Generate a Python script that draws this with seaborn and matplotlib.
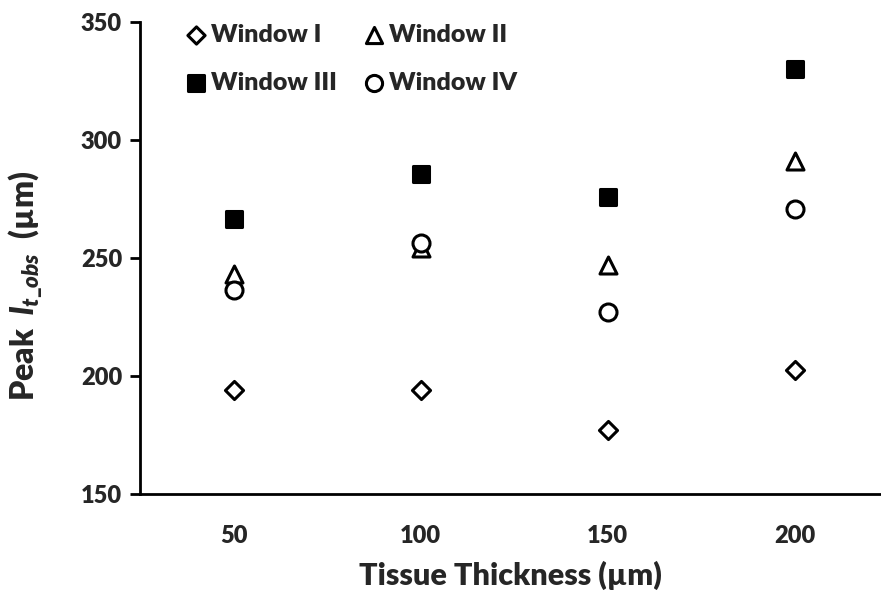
import matplotlib
matplotlib.use("Agg")
import matplotlib.pyplot as plt
import seaborn as sns

# datos
grosor = ["50", "100", "150", "200"]
ventana_1 = [194.2, 194.2, 177.3, 202.7]
ventana_2 = [243.5, 254.5, 247.0, 291.3]
ventana_3 = [266.9, 285.7, 276.0, 330.1]
ventana_4 = [236.7, 256.5, 227.2, 271.1]

sns.set_style("white")
plt.rcParams["font.family"] = ["Lato", "DejaVu Sans"]
plt.rcParams["font.weight"] = "heavy"
plt.rcParams["mathtext.fontset"] = "custom"
plt.rcParams["mathtext.rm"] = "Lato:heavy"
plt.rcParams["mathtext.it"] = "Lato:italic:heavy"

fig = plt.figure(figsize=(8.81, 5.92), dpi=100)
ax = fig.add_axes([0.159, 0.165, 0.841, 0.797])

series = [
    ("Window I", ventana_1, "D", 85, "white"),
    ("Window II", ventana_2, "^", 150, "white"),
    ("Window III", ventana_3, "s", 140, "black"),
    ("Window IV", ventana_4, "o", 150, "white"),
]
for nombre, vals, marcador, tam, relleno in series:
    sns.scatterplot(x=grosor, y=vals, marker=marcador, s=tam, facecolor=relleno,
                    edgecolor="black", linewidth=2.2, label=nombre, ax=ax, zorder=3)

ax.set_ylim(150, 350)
ax.set_yticks([150, 200, 250, 300, 350])
ax.set_xlim(-0.5, 3.46)

for lado in ["top", "right"]:
    ax.spines[lado].set_visible(False)
for lado in ["left", "bottom"]:
    ax.spines[lado].set_color("black")
    ax.spines[lado].set_linewidth(2)

ax.tick_params(axis="y", length=7, width=2, color="black", labelsize=17, pad=6, left=True)
ax.tick_params(axis="x", length=0, labelsize=17, pad=22)

ax.set_xlabel("Tissue Thickness (µm)", fontsize=22, fontweight="heavy", labelpad=10)
ax.set_ylabel(r"Peak  $l_{t\_obs}$  (µm)", fontsize=23, fontweight="heavy")
ax.yaxis.set_label_coords(-0.13, 0.443)

# orden por filas: I, II arriba; III, IV abajo
h, l = ax.get_legend_handles_labels()
orden = [0, 2, 1, 3]
leg = ax.legend([h[i] for i in orden], [l[i] for i in orden],
                loc="upper left", ncol=2, frameon=False, fontsize=18,
                bbox_to_anchor=(0.025, 1.045), handletextpad=0.0, columnspacing=0.9,
                labelspacing=1.05, markerscale=0.95, handlelength=1.2)

plt.savefig("out.png", dpi=100)
